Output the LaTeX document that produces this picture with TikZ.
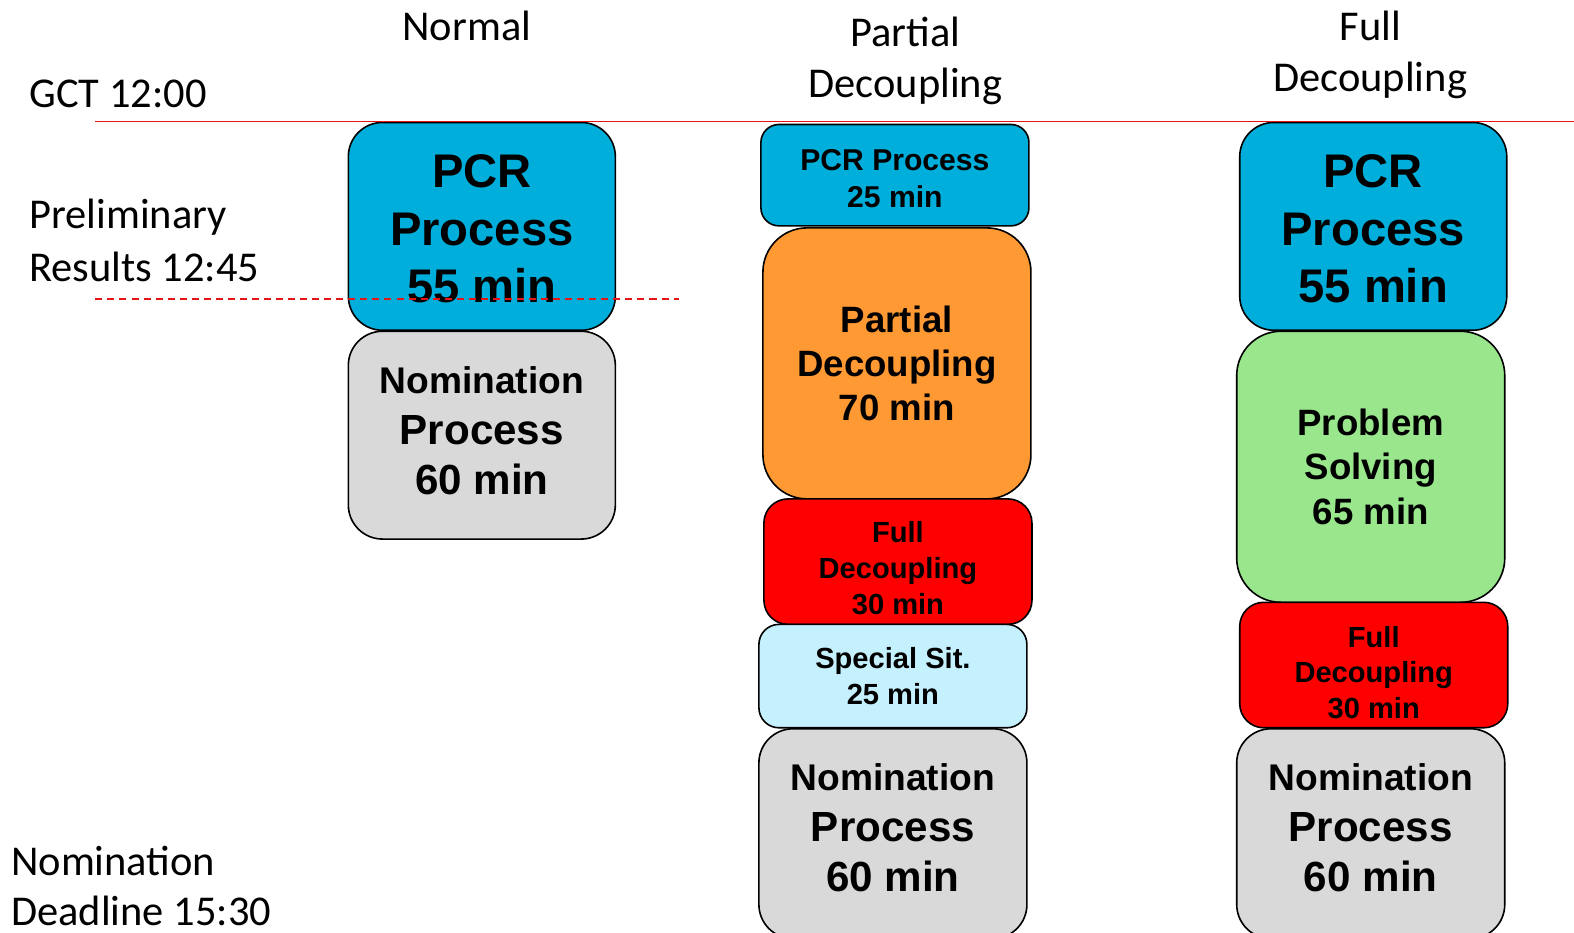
\documentclass[tikz,border=0pt]{standalone}
\usepackage{fontspec}
\setmainfont{Carlito}
\setsansfont{Liberation Sans}
\newcommand\fsz[2]{\fontsize{#1}{#2}\selectfont}
% strut that sets the height of a first line (pushes text down)
\newcommand\tall[1]{\rule{0pt}{#1pt}}
% strut that sets the depth of a last line (pushes text up)
\newcommand\deep[1]{\rule[-#1pt]{0pt}{0pt}}
\definecolor{pcrblue}{RGB}{0,174,219}
\definecolor{pdorange}{RGB}{255,153,51}
\definecolor{fdred}{RGB}{255,0,0}
\definecolor{ssblue}{RGB}{197,240,253}
\definecolor{nomgray}{RGB}{217,217,217}
\definecolor{psgreen}{RGB}{153,230,140}
\definecolor{lineRed}{RGB}{230,20,20}
\begin{document}
\begin{tikzpicture}[x=1pt,y=-1pt,
  blk/.style={draw=black, line width=1.6pt, rounded corners=#1, inner sep=0pt, align=center},
  blk/.default=30pt,
  sz/.style 2 args={minimum width=#1pt, minimum height=#2pt},
  lbl/.style={font=\fsz{42.3}{50}, inner sep=0pt},
  big/.style={font=\sffamily\bfseries\fsz{47}{57}},
  nomtxt/.style={font=\sffamily\bfseries\fsz{42}{50}},
  mid/.style={font=\sffamily\bfseries\fsz{36.5}{44}},
  small/.style={font=\sffamily\bfseries\fsz{29}{35.5}},
  small2/.style={font=\sffamily\bfseries\fsz{30}{37}},
]
\useasboundingbox (0,0) rectangle (1568,929.4);

% column headings
\node[lbl, anchor=base] (hnorm) at (465,40) {Normal};
\node[lbl, anchor=base] (hpart1) at (902,46) {Partial};
\node[lbl, anchor=base] (hpart2) at (902,97) {Decoupling};
\node[lbl, anchor=base] (hfull1) at (1365,40) {Full};
\node[lbl, anchor=base] (hfull2) at (1365,91) {Decoupling};

% time marks on the left
\node[lbl, anchor=base west] (gct) at (29,107) {GCT 12:00};
\node[lbl, anchor=base west] (prel1) at (29,228) {Preliminary};
\node[lbl, anchor=base west] (prel2) at (29,280) {Results 12:45};
\node[lbl, anchor=base west] (dead1) at (11,872) {Nomination};
\node[lbl, anchor=base west] (dead2) at (11,922) {Deadline 15:30};

% Normal schedule
\node[blk=34pt, fill=pcrblue, sz={266}{207}, big] (npcr) at (480,225.5)
  {\tall{38}PCR\\Process\\55 min};
\node[blk=34pt, fill=nomgray, sz={266}{207}, nomtxt] (nnom) at (480,433.5)
  {{\fsz{37}{50}Nomination}\\Process\\60 min\deep{9}};

% Partial decoupling schedule
\node[blk=18pt, fill=pcrblue, sz={267}{101}, small2] (ppcr) at (891.5,174.5)
  {\tall{27}PCR Process\\25 min};
\node[blk=44pt, fill=pdorange, sz={267}{270}, mid] (ppd) at (893.5,362)
  {Partial\\Decoupling\\70 min};
\node[blk=24pt, fill=fdred, sz={267}{125}, small] (pfd) at (894.5,559.5)
  {\tall{34}Full\\Decoupling\\30 min};
\node[blk=20pt, fill=ssblue, sz={267}{103}, small] (pss) at (889.5,673.5)
  {Special Sit.\\25 min};
\node[blk=34pt, fill=nomgray, sz={267}{209}, nomtxt] (pnom) at (889.5,830.5)
  {{\fsz{37}{50}Nomination}\\Process\\60 min\deep{12}};

% Full decoupling schedule
\node[blk=34pt, fill=pcrblue, sz={266}{207}, big] (fpcr) at (1368,225.5)
  {\tall{38}PCR\\Process\\55 min};
\node[blk=44pt, fill=psgreen, sz={267}{270}, mid] (fps) at (1365.5,465)
  {Problem\\Solving\\65 min};
\node[blk=24pt, fill=fdred, sz={267}{125}, small] (ffd) at (1368.5,662.5)
  {\tall{36}Full\\Decoupling\\30 min};
\node[blk=34pt, fill=nomgray, sz={267}{209}, nomtxt] (fnom) at (1365.5,830.5)
  {{\fsz{37}{50}Nomination}\\Process\\60 min\deep{12}};

% reference time lines
\coordinate (gctL) at (95,121);
\coordinate (gctR) at (1568,121);
\coordinate (prL) at (95,298);
\coordinate (prR) at (676,298);
\draw[lineRed, line width=1.4pt] (gctL) -- (gctR);
\draw[lineRed, line width=1.4pt, dash pattern=on 7pt off 5pt] (prL) -- (prR);
\end{tikzpicture}
\end{document}
